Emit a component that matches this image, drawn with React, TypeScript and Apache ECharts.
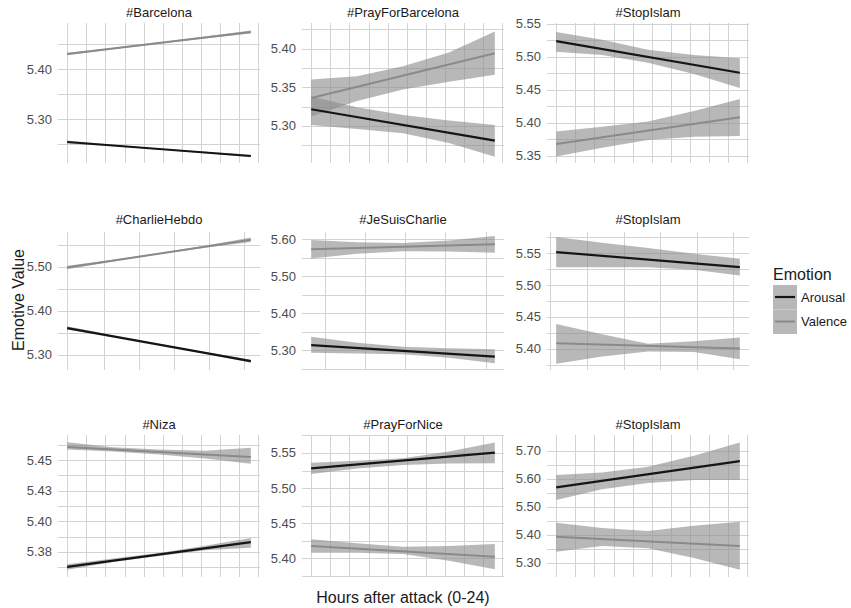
import React, { useEffect, useRef } from 'react';
import * as echarts from 'echarts';

// ---------- data ----------
const hashtags = ['#Barcelona', '#PrayForBarcelona', '#StopIslam', '#CharlieHebdo', '#JeSuisCharlie', '#StopIslam', '#Niza', '#PrayForNice', '#StopIslam'];
const emotions = ['Arousal', 'Valence'];

const fitHours = [0, 24];
const bandHours = [0, 6, 12, 18, 24];

const arousalFit = [
  [5.254, 5.226], [5.3215, 5.281], [5.524, 5.476],
  [5.361, 5.286], [5.3136, 5.282], [5.5516, 5.528],
  [5.3628, 5.3831], [5.528, 5.5504], [5.569, 5.663],
];
const arousalLow = [
  [5.251, 5.2455, 5.2388, 5.2315, 5.2235],
  [5.301, 5.296, 5.2906, 5.278, 5.26],
  [5.508, 5.503, 5.491, 5.474, 5.453],
  [5.357, 5.3415, 5.3225, 5.3035, 5.2825],
  [5.293, 5.291, 5.289, 5.279, 5.264],
  [5.528, 5.528, 5.528, 5.524, 5.515],
  [5.3605, 5.3668, 5.3718, 5.3765, 5.3785],
  [5.52, 5.528, 5.533, 5.535, 5.5353],
  [5.524, 5.562, 5.585, 5.595, 5.595],
];
const arousalHigh = [
  [5.257, 5.2485, 5.2412, 5.2345, 5.2285],
  [5.338, 5.324, 5.314, 5.307, 5.301],
  [5.538, 5.526, 5.511, 5.503, 5.498],
  [5.365, 5.3445, 5.3255, 5.3065, 5.2895],
  [5.336, 5.32, 5.309, 5.305, 5.302],
  [5.575, 5.566, 5.558, 5.549, 5.541],
  [5.365, 5.3697, 5.3742, 5.38, 5.3865],
  [5.536, 5.539, 5.5424, 5.552, 5.565],
  [5.613, 5.622, 5.643, 5.682, 5.729],
];
const valenceFit = [
  [5.43, 5.474], [5.336, 5.394], [5.368, 5.4086],
  [5.498, 5.561], [5.573, 5.587], [5.409, 5.4005],
  [5.4606, 5.4524], [5.417, 5.4019], [5.393, 5.36],
];
const valenceLow = [
  [5.4275, 5.4395, 5.4505, 5.461, 5.471],
  [5.312, 5.332, 5.347, 5.357, 5.366],
  [5.349, 5.362, 5.374, 5.379, 5.38],
  [5.494, 5.512, 5.528, 5.543, 5.556],
  [5.548, 5.561, 5.568, 5.567, 5.564],
  [5.3766, 5.388, 5.396, 5.395, 5.384],
  [5.4585, 5.457, 5.4545, 5.4512, 5.447],
  [5.4076, 5.4075, 5.4057, 5.396, 5.384],
  [5.339, 5.36, 5.352, 5.317, 5.275],
];
const valenceHigh = [
  [5.4325, 5.4425, 5.4535, 5.465, 5.477],
  [5.36, 5.364, 5.377, 5.395, 5.422],
  [5.387, 5.394, 5.402, 5.418, 5.436],
  [5.502, 5.5155, 5.531, 5.5475, 5.566],
  [5.598, 5.592, 5.59, 5.597, 5.609],
  [5.439, 5.423, 5.408, 5.412, 5.418],
  [5.4645, 5.4605, 5.4585, 5.4575, 5.46],
  [5.4267, 5.421, 5.416, 5.417, 5.42],
  [5.443, 5.424, 5.413, 5.432, 5.446],
];

const yRanges = [
  [5.212, 5.492], [5.252, 5.433], [5.339, 5.5515],
  [5.266, 5.5786], [5.246, 5.62], [5.367, 5.583],
  [5.3546, 5.4704], [5.3729, 5.5757], [5.249, 5.756],
];
const yTicks = [
  [5.3, 5.4], [5.3, 5.35, 5.4], [5.35, 5.4, 5.45, 5.5, 5.55],
  [5.3, 5.4, 5.5], [5.3, 5.4, 5.5, 5.6], [5.4, 5.45, 5.5, 5.55],
  [5.375, 5.4, 5.425, 5.45], [5.4, 5.45, 5.5, 5.55], [5.3, 5.4, 5.5, 5.6, 5.7],
];
const yTickLabels = [
  ['5.30', '5.40'], ['5.30', '5.35', '5.40'], ['5.35', '5.40', '5.45', '5.50', '5.55'],
  ['5.30', '5.40', '5.50'], ['5.30', '5.40', '5.50', '5.60'], ['5.40', '5.45', '5.50', '5.55'],
  ['5.38', '5.40', '5.43', '5.45'], ['5.40', '5.45', '5.50', '5.55'], ['5.30', '5.40', '5.50', '5.60', '5.70'],
];
const yGridValues = [
  [5.25, 5.3, 5.35, 5.4, 5.45],
  [5.275, 5.3, 5.325, 5.35, 5.375, 5.4, 5.425],
  [5.35, 5.375, 5.4, 5.425, 5.45, 5.475, 5.5, 5.525, 5.55],
  [5.3, 5.35, 5.4, 5.45, 5.5, 5.55],
  [5.25, 5.3, 5.35, 5.4, 5.45, 5.5, 5.55, 5.6],
  [5.375, 5.4, 5.425, 5.45, 5.475, 5.5, 5.525, 5.55, 5.575],
  [5.3625, 5.375, 5.3875, 5.4, 5.4125, 5.425, 5.4375, 5.45, 5.4625],
  [5.375, 5.4, 5.425, 5.45, 5.475, 5.5, 5.525, 5.55, 5.575],
  [5.3, 5.35, 5.4, 5.45, 5.5, 5.55, 5.6, 5.65, 5.7],
];
const hourGrid = [0, 2.5, 5, 7.5, 10, 12.5, 15, 17.5, 20, 22.5, 25];
const xGridValues = [
  hourGrid, hourGrid, hourGrid,
  [0, 4.8, 9.4, 14.0, 18.5, 23.1],
  [1.8, 7.0, 12.3, 17.5, 22.8],
  [-0.8, 4.0, 8.85, 13.6, 18.4, 23.1],
  hourGrid, hourGrid, hourGrid,
];
const xRange = [-1.2, 25.2];

// ---------- layout / style ----------
const colLeft = [58, 302, 547];
const colWidth = 202;
const rowTop = [23, 232, 435];
const rowHeight = [140, 138, 142];
const titleY = [12, 219, 424];
const FONT = 'Liberation Sans, Arial, sans-serif';
const GRID_COLOR = '#d3d3d3';
const BAND_FILL = 'rgba(140,140,140,0.62)';
const AROUSAL_COLOR = '#151515';
const VALENCE_COLOR = '#8a8a8a';

function buildOption() {
  const grids: any[] = [];
  const xAxes: any[] = [];
  const yAxes: any[] = [];
  const series: any[] = [];
  const graphics: any[] = [];

  hashtags.forEach((tag, i) => {
    const r = Math.floor(i / 3);
    const c = i % 3;
    grids.push({ left: colLeft[c], top: rowTop[r], width: colWidth, height: rowHeight[r], containLabel: false });
    xAxes.push({
      type: 'value', gridIndex: i, min: xRange[0], max: xRange[1],
      axisLabel: { show: false }, axisLine: { show: false }, axisTick: { show: false }, splitLine: { show: false },
    });
    const ticks = yTicks[i];
    const labels = yTickLabels[i];
    yAxes.push({
      type: 'value', gridIndex: i, min: yRanges[i][0], max: yRanges[i][1],
      axisLine: { show: false }, axisTick: { show: false }, splitLine: { show: false },
      axisLabel: {
        show: true, customValues: ticks, margin: 6, color: '#4d4d4d', fontSize: 13, fontFamily: FONT,
        formatter: (v: number) => {
          const k = ticks.findIndex((t) => Math.abs(t - v) < 1e-6);
          return k >= 0 ? labels[k] : '';
        },
      },
    });

    // gridlines
    const xg = xGridValues[i];
    const yg = yGridValues[i];
    series.push({
      type: 'custom', xAxisIndex: i, yAxisIndex: i, z: 0, silent: true,
      data: [[0, yRanges[i][0]]],
      renderItem: (params: any, api: any) => {
        const cs = params.coordSys;
        const children: any[] = [];
        xg.forEach((h) => {
          const px = Math.round(api.coord([h, yRanges[i][0]])[0]) + 0.5;
          children.push({ type: 'line', shape: { x1: px, y1: cs.y, x2: px, y2: cs.y + cs.height }, style: { stroke: GRID_COLOR, lineWidth: 1 } });
        });
        yg.forEach((v) => {
          const py = Math.round(api.coord([0, v])[1]) + 0.5;
          children.push({ type: 'line', shape: { x1: cs.x, y1: py, x2: cs.x + cs.width, y2: py }, style: { stroke: GRID_COLOR, lineWidth: 1 } });
        });
        return { type: 'group', children };
      },
    });

    // bands
    const bands = [
      [arousalLow[i], arousalHigh[i]],
      [valenceLow[i], valenceHigh[i]],
    ];
    bands.forEach(([lo, hi], b) => {
      series.push({
        type: 'custom', name: emotions[b] + ' band', xAxisIndex: i, yAxisIndex: i, z: 1, silent: true,
        data: [[bandHours[0], lo[0]]],
        renderItem: (_params: any, api: any) => {
          const pts: number[][] = [];
          bandHours.forEach((h, k) => pts.push(api.coord([h, hi[k]])));
          for (let k = bandHours.length - 1; k >= 0; k--) pts.push(api.coord([bandHours[k], lo[k]]));
          return { type: 'polygon', shape: { points: pts }, style: { fill: BAND_FILL, stroke: 'none' } };
        },
      });
    });

    // fitted lines
    series.push({
      type: 'line', name: 'Arousal', xAxisIndex: i, yAxisIndex: i, z: 3, silent: true,
      showSymbol: false, symbol: 'none',
      data: fitHours.map((h, k) => [h, arousalFit[i][k]]),
      lineStyle: { color: AROUSAL_COLOR, width: 2.2 },
    });
    series.push({
      type: 'line', name: 'Valence', xAxisIndex: i, yAxisIndex: i, z: 3, silent: true,
      showSymbol: false, symbol: 'none',
      data: fitHours.map((h, k) => [h, valenceFit[i][k]]),
      lineStyle: { color: VALENCE_COLOR, width: 2 },
    });

    graphics.push({
      type: 'text', x: colLeft[c] + colWidth / 2, y: titleY[r],
      style: { text: tag, fill: '#1a1a1a', font: `13px ${FONT}`, textAlign: 'center', textVerticalAlign: 'middle' },
    });
  });

  // axis titles
  graphics.push({
    type: 'text', x: 403, y: 597,
    style: { text: 'Hours after attack (0-24)', fill: '#1a1a1a', font: `16px ${FONT}`, textAlign: 'center', textVerticalAlign: 'middle' },
  });
  graphics.push({
    type: 'text', x: 18, y: 300, rotation: Math.PI / 2,
    style: { text: 'Emotive Value', fill: '#1a1a1a', font: `16px ${FONT}`, textAlign: 'center', textVerticalAlign: 'middle' },
  });

  // legend
  graphics.push({
    type: 'text', x: 773, y: 274,
    style: { text: 'Emotion', fill: '#1a1a1a', font: `16px ${FONT}`, textAlign: 'left', textVerticalAlign: 'middle' },
  });
  const legendLineColors = [AROUSAL_COLOR, VALENCE_COLOR];
  emotions.forEach((e, k) => {
    const top = 285 + k * 24.5;
    graphics.push({ type: 'rect', shape: { x: 773, y: top, width: 24, height: 24.5 }, style: { fill: '#b8b8b8' } });
    graphics.push({ type: 'line', shape: { x1: 775, y1: top + 12, x2: 795, y2: top + 12 }, style: { stroke: legendLineColors[k], lineWidth: k === 0 ? 2.2 : 2 } });
    graphics.push({
      type: 'text', x: 801, y: top + 12,
      style: { text: e, fill: '#1a1a1a', font: `13px ${FONT}`, textAlign: 'left', textVerticalAlign: 'middle' },
    });
  });

  return {
    animation: false,
    backgroundColor: '#ffffff',
    grid: grids,
    xAxis: xAxes,
    yAxis: yAxes,
    series,
    graphic: graphics,
  };
}

export default function App() {
  const ref = useRef<HTMLDivElement>(null);
  useEffect(() => {
    if (!ref.current) return;
    const chart = echarts.init(ref.current, undefined, { renderer: 'svg' });
    chart.setOption(buildOption() as any);
    return () => chart.dispose();
  }, []);
  return <div ref={ref} style={{ position: 'fixed', left: 0, top: 0, width: 851, height: 608 }} />;
}
